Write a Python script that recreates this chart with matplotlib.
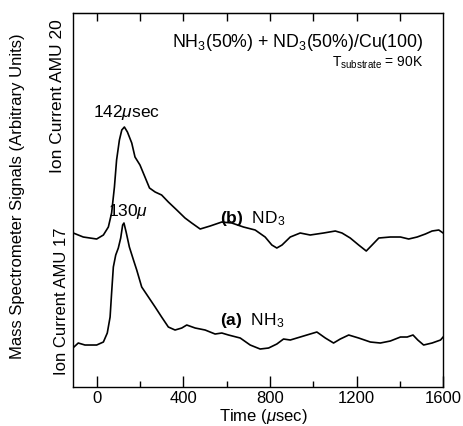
import matplotlib
matplotlib.use("Agg")
import matplotlib.pyplot as plt
import numpy as np

plt.rcParams['font.family'] = ['Liberation Sans', 'DejaVu Sans']
plt.rcParams['mathtext.fontset'] = 'custom'
plt.rcParams['mathtext.rm'] = 'Liberation Sans'
plt.rcParams['mathtext.it'] = 'Liberation Sans:italic'
plt.rcParams['mathtext.bf'] = 'Liberation Sans:bold'

# (a) NH3, AMU 17
t_nh3 = [-105, -85, -54, 0, 31, 49, 62, 69, 77, 88, 100, 111, 120, 126, 136, 151,
         170, 185, 208, 239, 270, 300, 331, 362, 393, 416, 455, 501, 547, 578,
         609, 663, 709, 755, 794, 832, 863, 894, 940, 986, 1017, 1056, 1094, 1125,
         1164, 1210, 1264, 1310, 1356, 1403, 1434, 1461, 1483, 1510, 1549, 1588, 1600]
s_nh3 = [40, 44, 42, 42, 45, 54, 70, 94, 120, 132, 139, 149, 162, 164, 155, 140,
         127, 117, 100, 90, 80, 70, 60, 57, 59, 62, 59, 57, 53, 54,
         52, 49, 42, 38, 39, 43, 48, 47, 50, 53, 55, 49, 44, 48,
         52, 49, 45, 44, 46, 50, 50, 52, 47, 42, 44, 47, 50]

# (b) ND3, AMU 20
t_nd3 = [-108, -62, 0, 31, 54, 69, 82, 92, 105, 116, 128, 142, 162, 177, 200, 223,
         244, 270, 300, 331, 370, 408, 439, 478, 524, 578, 624, 678, 732, 778,
         809, 832, 856, 894, 940, 986, 1048, 1102, 1133, 1171, 1210, 1245, 1272,
         1303, 1356, 1403, 1441, 1480, 1518, 1549, 1580, 1600]
s_nd3 = [154, 150, 148, 152, 160, 174, 200, 227, 247, 257, 260, 255, 244, 230, 222, 210,
         199, 195, 192, 185, 177, 169, 164, 158, 161, 165, 164, 160, 157, 150,
         142, 139, 142, 150, 154, 152, 154, 156, 154, 149, 142, 136, 142,
         149, 150, 150, 148, 150, 153, 156, 157, 154]

fig = plt.figure(figsize=(4.64, 4.26), dpi=100)
ax = fig.add_axes([0.157, 0.0915, 0.798, 0.878])

ax.plot(t_nh3, s_nh3, color='black', lw=1.2)
ax.plot(t_nd3, s_nd3, color='black', lw=1.2)

ax.set_xlim(-110, 1600)
ax.set_ylim(0, 374)
ax.set_yticks([])
ax.set_xticks([0, 400, 800, 1200, 1600])
ax.set_xticks([200, 600, 1000, 1400], minor=True)
ax.tick_params(axis='x', which='major', direction='in', length=8, width=1, labelsize=12, pad=3)
ax.tick_params(axis='x', which='minor', direction='in', length=4, width=1)
for sp in ax.spines.values():
    sp.set_linewidth(1)

# top ticks
sec = ax.secondary_xaxis('top')
sec.set_xticks(np.arange(0, 1600, 200))
sec.set_xticklabels([])
sec.tick_params(direction='in', length=6, width=1)

fig.text(0.567, 0.0, r'Time ($\mu$sec)', ha='center', va='bottom', fontsize=12)

fig.text(0.037, 0.54, 'Mass Spectrometer Signals (Arbitrary Units)', rotation=90,
         ha='center', va='center', fontsize=12)
fig.text(0.125, 0.775, 'Ion Current AMU 20', rotation=90, ha='center', va='center', fontsize=12.5)
fig.text(0.133, 0.293, 'Ion Current AMU 17', rotation=90, ha='center', va='center', fontsize=12)

ax.text(1510, 344, r'NH$_3$(50%) + ND$_3$(50%)/Cu(100)', ha='right', va='center', fontsize=12.8)
ax.text(1510, 324, r'T$_{\rm substrate}$ = 90K', ha='right', va='center', fontsize=10)

ax.text(138, 275, r'142$\mu$sec', ha='center', va='center', fontsize=12.5)
ax.text(145, 176, r'130$\mu$', ha='center', va='center', fontsize=12.5)
ax.text(720, 169, r'$\mathbf{(b)}$  ND$_3$', ha='center', va='center', fontsize=12.5)
ax.text(720, 67, r'$\mathbf{(a)}$  NH$_3$', ha='center', va='center', fontsize=12.5)

fig.savefig('out.png', dpi=100)
